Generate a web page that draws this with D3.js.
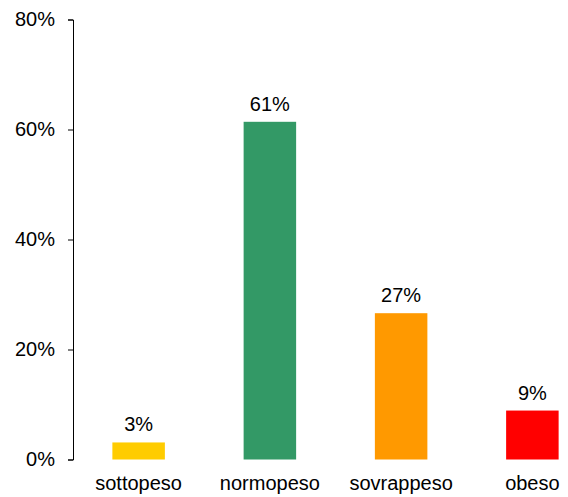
<!DOCTYPE html>
<html>
<head>
<meta charset="utf-8">
<script src="https://cdn.jsdelivr.net/npm/d3@7"></script>
<style>
  html, body { margin: 0; padding: 0; background: #fff; }
  text { font-family: "Liberation Sans", Arial, sans-serif; }
</style>
</head>
<body>
<svg id="chart" width="568" height="497"></svg>
<script>
// BMI categories and their share of the sample
const categories = ["sottopeso", "normopeso", "sovrappeso", "obeso"];
const shares = [0.031, 0.614, 0.266, 0.089];
const barColors = ["#FFCC00", "#339966", "#FF9900", "#FF0000"];
const yTicks = [0, 0.2, 0.4, 0.6, 0.8];

const svg = d3.select("#chart");
const x0 = 73, yTop = 19.5, yBottom = 459.5;
const fontSize = 20;

const x = d3.scaleBand()
  .domain(categories)
  .range([x0, x0 + 525])
  .paddingInner(0.6)
  .paddingOuter(0.3);

const y = d3.scaleLinear()
  .domain([0, 0.8])
  .range([yBottom, yTop]);

const pct = d3.format(".0%");

// Y axis
const yAxis = svg.append("g")
  .attr("transform", `translate(${x0},0)`)
  .call(d3.axisLeft(y).tickValues(yTicks).tickFormat(pct).tickSize(5).tickPadding(13));
yAxis.selectAll("path, line").attr("stroke", "#000").attr("stroke-width", 1);
yAxis.selectAll("text")
  .attr("font-size", fontSize)
  .attr("fill", "#000")
  .style("font-family", "'Liberation Sans', Arial, sans-serif");

const data = categories.map((c, i) => ({ c, v: shares[i], color: barColors[i] }));

// Bars
svg.append("g").selectAll("rect")
  .data(data)
  .join("rect")
  .attr("x", d => x(d.c))
  .attr("width", x.bandwidth())
  .attr("y", d => y(d.v))
  .attr("height", d => y(0) - y(d.v))
  .attr("fill", d => d.color);

// Value labels
svg.append("g").selectAll("text")
  .data(data)
  .join("text")
  .attr("x", d => x(d.c) + x.bandwidth() / 2)
  .attr("y", d => y(d.v) - 11)
  .attr("text-anchor", "middle")
  .attr("font-size", fontSize)
  .attr("fill", "#000")
  .text(d => pct(d.v));

// Category labels
svg.append("g").selectAll("text")
  .data(data)
  .join("text")
  .attr("x", d => x(d.c) + x.bandwidth() / 2)
  .attr("y", 490)
  .attr("text-anchor", "middle")
  .attr("font-size", fontSize)
  .attr("fill", "#000")
  .text(d => d.c);
</script>
</body>
</html>
